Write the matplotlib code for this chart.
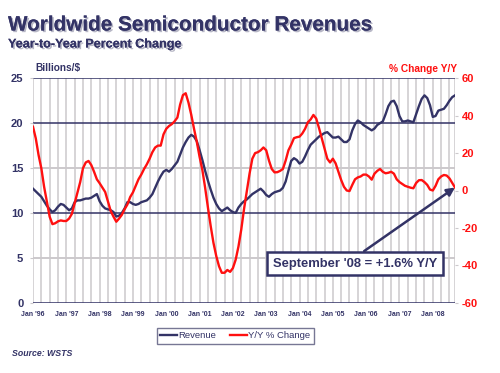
import matplotlib
matplotlib.use("Agg")
import matplotlib.pyplot as plt
import matplotlib.patheffects as pe
import numpy as np

plt.rcParams['font.family'] = ['Liberation Sans', 'DejaVu Sans']

# Monthly data, Jan 1996 .. Sep 2008
revenue = [
    12.7, 12.4, 12.1, 11.8, 11.3, 10.8, 10.4, 10.1, 10.3, 10.7, 11.0, 10.9,   # 1996
    10.6, 10.3, 10.5, 11.2, 11.4, 11.4, 11.5, 11.6, 11.6, 11.7, 11.9, 12.1,   # 1997
    11.3, 10.8, 10.5, 10.4, 10.3, 10.1, 9.6, 9.7, 10.0, 10.5, 11.2, 11.2,     # 1998
    11.0, 10.9, 11.0, 11.2, 11.3, 11.4, 11.7, 12.1, 12.8, 13.5, 14.1, 14.6,   # 1999
    14.8, 14.6, 14.9, 15.3, 15.7, 16.5, 17.3, 17.9, 18.4, 18.7, 18.5, 18.0,   # 2000
    17.0, 15.9, 14.7, 13.6, 12.6, 11.7, 11.0, 10.5, 10.2, 10.4, 10.6, 10.3,   # 2001
    10.1, 10.0, 10.6, 11.0, 11.3, 11.5, 11.8, 12.1, 12.3, 12.5, 12.7, 12.4,   # 2002
    12.0, 11.8, 12.1, 12.3, 12.4, 12.5, 12.8, 13.5, 14.7, 15.8, 16.1, 15.9,   # 2003
    15.5, 15.7, 16.3, 17.0, 17.6, 17.9, 18.2, 18.5, 18.7, 18.9, 19.0, 18.7,   # 2004
    18.4, 18.4, 18.5, 18.2, 17.9, 17.9, 18.2, 19.2, 19.9, 20.3, 20.1, 19.8,   # 2005
    19.6, 19.4, 19.2, 19.4, 19.8, 20.0, 20.2, 21.0, 21.9, 22.4, 22.5, 21.9,   # 2006
    20.8, 20.2, 20.2, 20.3, 20.2, 20.1, 21.0, 21.9, 22.7, 23.1, 22.8, 22.0,   # 2007
    20.7, 20.8, 21.4, 21.5, 21.6, 22.0, 22.5, 22.9, 23.1,                     # 2008
]
yoy_change = [
    34.1, 27.9, 19.0, 11.9, 2.0, -6.0, -14.0, -18.0, -17.5, -16.5, -16.0, -16.3,   # 1996
    -16.3, -15.0, -12.5, -6.8, -1.0, 4.5, 11.9, 15.0, 15.8, 13.6, 10.0, 6.0,       # 1997
    3.9, 1.5, -0.8, -6.0, -11.0, -14.0, -16.7, -15.0, -13.0, -10.0, -7.5, -3.5,    # 1998
    -1.0, 2.5, 6.0, 8.5, 11.5, 14.0, 17.0, 20.5, 23.0, 24.0, 24.0, 30.0,           # 1999
    33.0, 34.5, 35.5, 37.0, 39.0, 46.0, 51.0, 52.0, 47.0, 40.5, 33.0, 26.0,        # 2000
    18.0, 11.0, 1.5, -9.0, -19.0, -28.0, -35.0, -40.5, -44.0, -44.0, -42.5, -43.5, # 2001
    -41.5, -37.0, -30.0, -21.0, -10.0, -0.5, 9.0, 17.0, 20.0, 20.5, 21.5, 23.0,    # 2002
    21.5, 16.0, 11.5, 9.7, 9.8, 10.5, 11.5, 16.0, 21.5, 24.5, 28.0, 28.5,          # 2003
    28.8, 30.5, 33.0, 36.5, 38.0, 40.4, 38.5, 33.5, 28.0, 22.5, 17.0, 15.0,        # 2004
    17.0, 14.5, 10.0, 5.6, 2.0, 0.0, -0.3, 3.0, 6.0, 7.0, 7.5, 8.5,                # 2005
    8.5, 7.5, 5.8, 9.0, 10.5, 11.5, 10.0, 9.2, 9.5, 10.0, 9.0, 6.0,                # 2006
    4.5, 3.5, 2.5, 2.0, 1.5, 1.2, 4.0, 5.5, 5.6, 4.5, 3.0, 0.5,                    # 2007
    0.0, 2.5, 6.0, 7.5, 8.3, 8.0, 6.5, 4.0, 1.6,                                   # 2008
]
year_labels = ["Jan '96", "Jan '97", "Jan '98", "Jan '99", "Jan '00", "Jan '01", "Jan '02",
               "Jan '03", "Jan '04", "Jan '05", "Jan '06", "Jan '07", "Jan '08"]
left_ticks = [0, 5, 10, 15, 20, 25]
right_ticks = [-60, -40, -20, 0, 20, 40, 60]

NAVY = '#333366'
RED = '#FF1010'
GRAY = '#CCC9CC'

months = np.arange(len(revenue))
W, H = 500, 373
fig = plt.figure(figsize=(W / 100, H / 100), dpi=100)
ax = fig.add_axes([33 / W, 1 - 302.7 / H, (455 - 33) / W, (302.7 - 78.3) / H])
ax2 = ax.twinx()

ax.set_xlim(0, months[-1])
ax.set_ylim(0, 25)
ax2.set_ylim(-60, 60)

# vertical quarterly grid
for q in list(range(0, len(revenue), 3)) + [months[-1]]:
    ax.axvline(q, color=GRAY, lw=1.1, zorder=0.5)
# horizontal grid
for v in left_ticks:
    c = GRAY if v in (5, 15) else NAVY
    ax.axhline(v, color=c, lw=1.4 if c == GRAY else 1.1, zorder=0.6)

for sp in list(ax.spines.values()) + list(ax2.spines.values()):
    sp.set_visible(False)

ax.plot(months, revenue, color=NAVY, lw=1.7, zorder=3, label='Revenue', solid_joinstyle='round')
ax2.plot(months, yoy_change, color=RED, lw=1.7, zorder=3, label='Y/Y % Change', solid_joinstyle='round')

ax.set_xticks(np.arange(0, len(revenue), 12))
ax.set_xticklabels(year_labels, fontsize=5, color=NAVY, fontweight='bold')
ax.tick_params(axis='x', length=0, pad=6)
ax.set_yticks(left_ticks)
ax.set_yticklabels([str(v) for v in left_ticks], fontsize=8, color=NAVY, fontweight='bold')
ax.tick_params(axis='y', length=2, color=GRAY, pad=5)
ax2.set_yticks(right_ticks)
ax2.set_yticklabels([str(v) for v in right_ticks], fontsize=8, color=RED, fontweight='bold')
ax2.tick_params(axis='y', length=2, color=GRAY, pad=3)

# Titles
shadow = [pe.withSimplePatchShadow(offset=(1.2, -1.2), shadow_rgbFace='#B0B0C0', alpha=0.9), pe.Normal()]
fig.text(8 / W, 1 - 30.5 / H, 'Worldwide Semiconductor Revenues', fontsize=14.9,
         fontweight='bold', color=NAVY, ha='left', va='baseline', path_effects=shadow)
fig.text(8 / W, 1 - 47.5 / H, 'Year-to-Year Percent Change', fontsize=9.1,
         fontweight='bold', color=NAVY, ha='left', va='baseline', path_effects=shadow)
fig.text(35 / W, 1 - 71.5 / H, 'Billions/$', fontsize=7.3, fontweight='bold', color=NAVY,
         ha='left', va='baseline')
fig.text(457 / W, 1 - 71.5 / H, '% Change Y/Y', fontsize=7.3, fontweight='bold', color=RED,
         ha='right', va='baseline')
fig.text(12 / W, 1 - 356 / H, 'Source: WSTS', fontsize=6.3, fontweight='bold', style='italic',
         color=NAVY, ha='left', va='baseline')

# Annotation
ax2.annotate("September '08 = +1.6% Y/Y", xy=(months[-1], yoy_change[-1]),
             xytext=(355 / W, 1 - 263.5 / H), textcoords='figure fraction',
             ha='center', va='center', fontsize=9.4, fontweight='bold', color=NAVY,
             bbox=dict(boxstyle='square,pad=0.42', fc='white', ec=NAVY, lw=1.8),
             arrowprops=dict(arrowstyle='-|>,head_length=0.5,head_width=0.25', color=NAVY, lw=1.8,
                             relpos=(0.5, 1.0), shrinkA=0, shrinkB=0),
             zorder=5)

# Legend
h1, l1 = ax.get_legend_handles_labels()
h2, l2 = ax2.get_legend_handles_labels()
leg = fig.legend(h1 + h2, l1 + l2, loc='center', bbox_to_anchor=(235.5 / W, 1 - 336 / H),
                 ncol=2, fontsize=6.8, frameon=True, fancybox=False, handlelength=1.8,
                 handletextpad=0.1, columnspacing=1.5, borderpad=0.35, labelcolor=NAVY)
leg.get_frame().set_edgecolor('#55557A')
leg.get_frame().set_linewidth(1.0)

fig.savefig('out.png', dpi=100)
